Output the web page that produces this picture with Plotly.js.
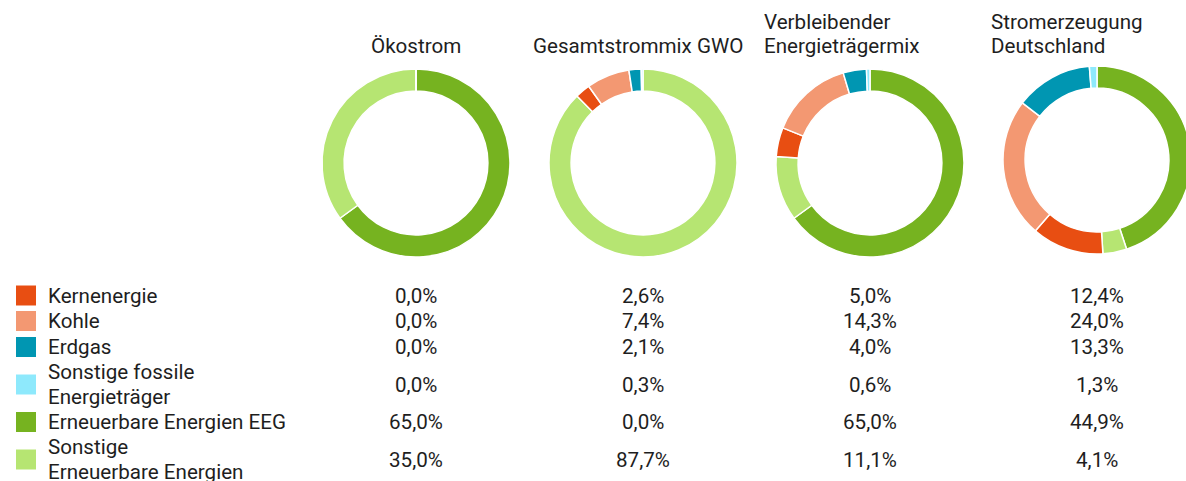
<!DOCTYPE html>
<html>
<head>
<meta charset="utf-8">
<script src="https://cdn.plot.ly/plotly-3.0.1.min.js"></script>
<style>
html,body{margin:0;padding:0;overflow:hidden;background:#fff;}
#chart{width:1200px;height:481px;}
</style>
</head>
<body>
<div id="chart"></div>
<script>
// ---- data ----
const categories = ["Kernenergie", "Kohle", "Erdgas", "Sonstige fossile Energieträger", "Erneuerbare Energien EEG", "Sonstige Erneuerbare Energien"];
const legendLines = [["Kernenergie"], ["Kohle"], ["Erdgas"], ["Sonstige fossile", "Energieträger"], ["Erneuerbare Energien EEG"], ["Sonstige", "Erneuerbare Energien"]];
const colors = ["#E84E12", "#F39872", "#0096B2", "#8EE9FC", "#76B320", "#B6E572"];
const chartTitles = [["Ökostrom"], ["Gesamtstrommix GWO"], ["Verbleibender", "Energieträgermix"], ["Stromerzeugung", "Deutschland"]];
const oekostrom = [0.0, 0.0, 0.0, 0.0, 65.0, 35.0];
const gesamtstrommixGWO = [2.6, 7.4, 2.1, 0.3, 0.0, 87.7];
const verbleibenderMix = [5.0, 14.3, 4.0, 0.6, 65.0, 11.1];
const stromerzeugungDE = [12.4, 24.0, 13.3, 1.3, 44.9, 4.1];
const series = [oekostrom, gesamtstrommixGWO, verbleibenderMix, stromerzeugungDE];
// slice drawing order (clockwise from 12 o'clock)
const sliceOrder = [4, 5, 0, 1, 2, 3];

// ---- layout ----
const W = 1200, H = 481;
const cx = [416, 643, 870, 1097];
const cy = [163, 163, 163, 160];
const R = 94;
const font = "Roboto, 'Open Sans', sans-serif";
const txtColor = "#1e1e1e";
const fs = 20.6;
const lineGap = 25;

const traces = series.map((vals, i) => ({
  type: "pie",
  labels: sliceOrder.map(k => categories[k]),
  values: sliceOrder.map(k => vals[k]),
  marker: {colors: sliceOrder.map(k => colors[k]), line: {color: "#ffffff", width: 1.5}},
  sort: false,
  direction: "clockwise",
  rotation: 0,
  hole: 0.765,
  textinfo: "none",
  hoverinfo: "label+percent",
  showlegend: false,
  domain: {
    x: [(cx[i] - R) / W, (cx[i] + R) / W],
    y: [1 - (cy[i] + R) / H, 1 - (cy[i] - R) / H]
  }
}));

const annotations = [];
const shapes = [];
function addText(t, xPx, yPx, xanchor) {
  annotations.push({
    text: t, xref: "paper", yref: "paper",
    x: xPx / W, y: 1 - yPx / H,
    xanchor: xanchor, yanchor: "middle", align: "left",
    showarrow: false, font: {family: font, size: fs, color: txtColor}
  });
}
// chart titles
const titleX = [416, 638, 762, 989];
const titleAnchor = ["center", "center", "left", "left"];
const titleBottomY = 46.5;
chartTitles.forEach((lines, i) => {
  lines.forEach((ln, k) => {
    addText(ln, titleX[i], titleBottomY - (lines.length - 1 - k) * lineGap, titleAnchor[i]);
  });
});
// rows
const rowY = [295.5, 321, 347, 384.5, 422, 459.5];
categories.forEach((c, j) => {
  shapes.push({
    type: "rect", xref: "paper", yref: "paper",
    x0: 16 / W, x1: 36 / W,
    y0: 1 - (rowY[j] - 10) / H, y1: 1 - (rowY[j] + 10) / H,
    fillcolor: colors[j], line: {width: 0}
  });
  const lines = legendLines[j];
  lines.forEach((ln, k) => {
    addText(ln, 46, rowY[j] + (k - (lines.length - 1) / 2) * lineGap, "left");
  });
  series.forEach((vals, i) => {
    addText(vals[j].toFixed(1).replace(".", ",") + "%", cx[i], rowY[j], "center");
  });
});

Plotly.newPlot("chart", traces, {
  width: W, height: H,
  margin: {l: 0, r: 0, t: 0, b: 0},
  paper_bgcolor: "#ffffff",
  font: {family: font, size: fs, color: txtColor},
  annotations: annotations,
  shapes: shapes
}, {displayModeBar: false});
</script>
</body>
</html>
